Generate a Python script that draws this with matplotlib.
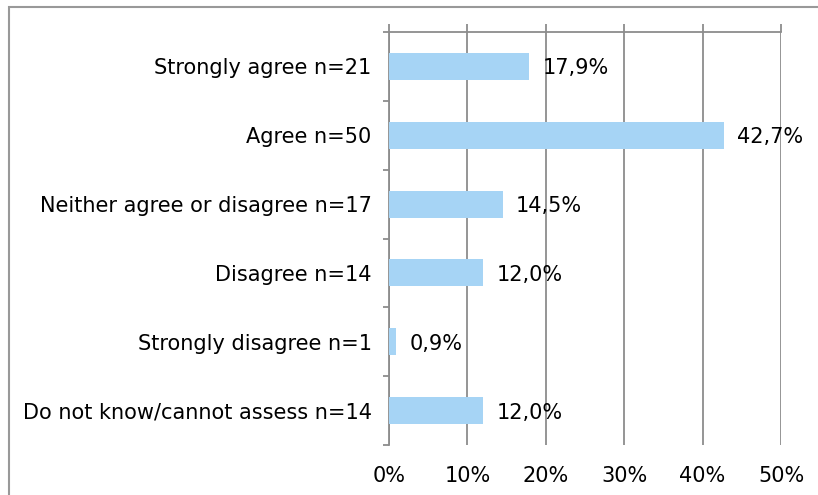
import matplotlib
matplotlib.use("Agg")
import matplotlib.pyplot as plt
from matplotlib.patches import Rectangle
from matplotlib.ticker import FuncFormatter, MultipleLocator
import numpy as np

categories = ["Strongly agree n=21", "Agree n=50", "Neither agree or disagree n=17",
              "Disagree n=14", "Strongly disagree n=1", "Do not know/cannot assess n=14"]
values = [17.9, 42.7, 14.5, 12.0, 0.9, 12.0]
value_labels = ["17,9%", "42,7%", "14,5%", "12,0%", "0,9%", "12,0%"]
xticks = [0, 10, 20, 30, 40, 50]

plt.rcParams['font.family'] = ['DejaVu Sans']
FS = 15
W, H = 818, 495
fig = plt.figure(figsize=(W / 100, H / 100), dpi=100)
ax = fig.add_axes([389 / W, 1 - 445 / H, (781 - 389) / W, (445 - 32) / H])

grey = '#8c8c8c'
y = np.arange(len(categories))
ax.barh(y, values, height=0.39, color='#a6d4f5', zorder=3)

for yi, v, lab in zip(y, values, value_labels):
    ax.annotate(lab, (v, yi), xytext=(9.5, -1.5), textcoords='offset points',
                ha='left', va='center', fontsize=FS, color='black', zorder=4)

ax.set_xlim(0, 50)
ax.set_ylim(len(categories) - 0.5, -0.5)
ax.set_xticks(xticks)
ax.xaxis.set_major_formatter(FuncFormatter(lambda v, p: f"{int(v)}%"))
ax.set_yticks(y)
ax.set_yticklabels(categories, fontsize=FS)
ax.yaxis.set_minor_locator(MultipleLocator(1, offset=0.5))

ax.tick_params(axis='y', which='major', length=0, pad=12.5)
ax.tick_params(axis='y', which='minor', length=4.5, width=1.3, color=grey, direction='out')
ax.tick_params(axis='x', which='major', top=True, bottom=False, labeltop=False,
               labelbottom=True, length=5.5, width=1.3, color=grey, pad=9.5, labelsize=FS)

ax.xaxis.grid(True, color=grey, lw=1.3, zorder=1)
ax.set_axisbelow(True)
for s in ['bottom', 'right']:
    ax.spines[s].set_visible(False)
for s in ['top', 'left']:
    ax.spines[s].set_color(grey)
    ax.spines[s].set_linewidth(1.3)

frame = Rectangle((9 / W, -0.1), 1.2, (H - 7) / H + 0.1, transform=fig.transFigure,
                  fill=False, edgecolor='#999999', lw=1.5)
fig.patches.append(frame)

fig.savefig("out.png", dpi=100, facecolor='white')
